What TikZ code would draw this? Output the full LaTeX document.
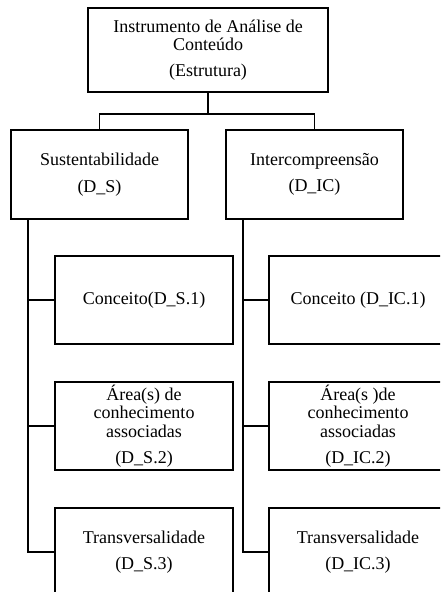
\documentclass[tikz,border=0pt]{standalone}
\usepackage{fontspec}
\setmainfont{Liberation Serif}
\begin{document}
\begin{tikzpicture}[x=1pt,y=-1pt,
  box/.style={draw=black, line width=1.5pt, rectangle, inner sep=0pt, align=center,
    font=\fontsize{18}{18.5}\selectfont},
  conn/.style={draw=black, line width=1.5pt}]
\useasboundingbox (0,0) rectangle (440,592);
\clip (0,0) rectangle (440,592);
\node[box, minimum width=240pt, minimum height=84pt] (top) at (208,50)
  {Instrumento de Análise de\\Conteúdo\\[7.5pt](Estrutura)};
\node[box, minimum width=177pt, minimum height=89pt] (s) at (99.5,174.5)
  {Sustentabilidade\\[8pt](D\_S)};
\node[box, minimum width=177pt, minimum height=89pt] (ic) at (314.5,174.5)
  {Intercompreensão\\[8pt](D\_IC)};
\node[box, minimum width=178pt, minimum height=88pt] (s1) at (144,300) {Conceito(D\_S.1)};
\node[box, minimum width=178pt, minimum height=88pt] (s2) at (144,426)
  {Área(s) de\\conhecimento\\associadas\\[7.5pt](D\_S.2)};
\node[box, minimum width=178pt, minimum height=88pt] (s3) at (144,552)
  {Transversalidade\\[8pt](D\_S.3)};
\node[box, minimum width=178pt, minimum height=88pt] (ic1) at (358,300) {Conceito (D\_IC.1)};
\node[box, minimum width=178pt, minimum height=88pt] (ic2) at (358,426)
  {Área(s )de\\conhecimento\\associadas\\[7.5pt](D\_IC.2)};
\node[box, minimum width=178pt, minimum height=88pt] (ic3) at (358,552)
  {Transversalidade\\[8pt](D\_IC.3)};
\coordinate (j) at (208,114);
\coordinate (sl) at (28,219);
\coordinate (icl) at (243,219);
\draw[conn] (top.south) -- (j);
\draw[conn] (s.north) |- (j) -| (ic.north);
\draw[conn] (sl) |- (s3.west);
\draw[conn] (s1.west) -- (s1.west -| sl);
\draw[conn] (s2.west) -- (s2.west -| sl);
\draw[conn] (icl) |- (ic3.west);
\draw[conn] (ic1.west) -- (ic1.west -| icl);
\draw[conn] (ic2.west) -- (ic2.west -| icl);
\end{tikzpicture}
\end{document}
